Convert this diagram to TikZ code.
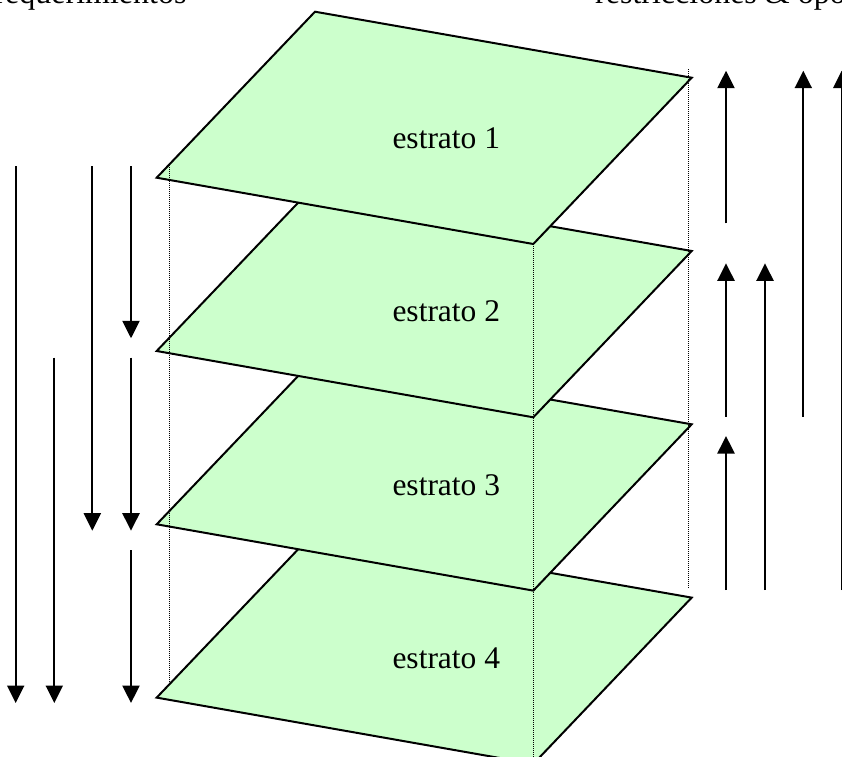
\documentclass[tikz,border=0pt]{standalone}
\usepackage{fontspec}
\setmainfont{Liberation Serif}
\usetikzlibrary{arrows.meta,calc}
\definecolor{planegreen}{HTML}{CCFFCC}
\begin{document}
\begin{tikzpicture}[x=1pt,y=-1pt,
  plane/.style={draw=black,fill=planegreen,line width=2pt,line join=miter},
  flow/.style={line width=2.2pt,-{Triangle[length=17.5pt,width=17pt]}},
  guide/.style={line width=1pt,dash pattern=on 1pt off 1pt},
  lbl/.style={font=\fontsize{31.5}{36}\selectfont,inner sep=0pt,anchor=base},
  toptext/.style={font=\fontsize{32}{36}\selectfont,inner sep=0pt}]
\useasboundingbox (0,0) rectangle (842,756);
\clip (0,0) rectangle (842,756);
% planes, bottom one first
\foreach \i/\y in {4/697.6,3/524.3,2/351,1/177.7} {
  \coordinate (L\i) at (156.7,\y);
  \draw[plane] (L\i) -- ++(158.3,-166) -- ++(376.7,66) -- ++(-158.4,166.3) -- cycle;
  \node[lbl] (e\i) at ($(L\i)+(289.6,-29.3)$) {estrato \i};
}
% dotted guides
\coordinate (g1a) at (169.3,164.5); \coordinate (g1b) at (169.3,684);
\coordinate (g2a) at (533.3,244);   \coordinate (g2b) at (533.3,763);
\coordinate (g3a) at (688.3,69);    \coordinate (g3b) at (688.3,588);
\draw[guide] (g1a) -- (g1b);
\draw[guide] (g2a) -- (g2b);
\draw[guide] (g3a) -- (g3b);
% downward arrows (left)
\coordinate (d1s) at (15.7,166);   \coordinate (d1e) at (15.7,703);
\coordinate (d2s) at (54.3,357.7); \coordinate (d2e) at (54.3,703);
\coordinate (d3s) at (92.3,166);   \coordinate (d3e) at (92.3,530.7);
\coordinate (d4s) at (131,166);    \coordinate (d4e) at (131,338.3);
\coordinate (d5s) at (131,357.7);  \coordinate (d5e) at (131,530.7);
\coordinate (d6s) at (131,550);    \coordinate (d6e) at (131,703);
\foreach \k in {1,...,6} { \draw[flow] (d\k s) -- (d\k e); }
% upward arrows (right)
\coordinate (u1s) at (726,223.3);   \coordinate (u1e) at (726,70.7);
\coordinate (u2s) at (803.3,416.7); \coordinate (u2e) at (803.3,70.7);
\coordinate (u3s) at (841.7,590);   \coordinate (u3e) at (841.7,70.7);
\coordinate (u4s) at (726,416.7);   \coordinate (u4e) at (726,263.3);
\coordinate (u5s) at (765,590);     \coordinate (u5e) at (765,263.3);
\coordinate (u6s) at (726,590);     \coordinate (u6e) at (726,436);
\foreach \k in {1,...,6} { \draw[flow] (u\k s) -- (u\k e); }
% top texts (cut by the page edge, as in the reference)
\node[toptext,anchor=base east] (req) at (186.7,3.3) {requerimientos};
\node[toptext,anchor=base west] (res) at (595,3.3) {restricciones \& oportunidades};
\end{tikzpicture}
\end{document}
